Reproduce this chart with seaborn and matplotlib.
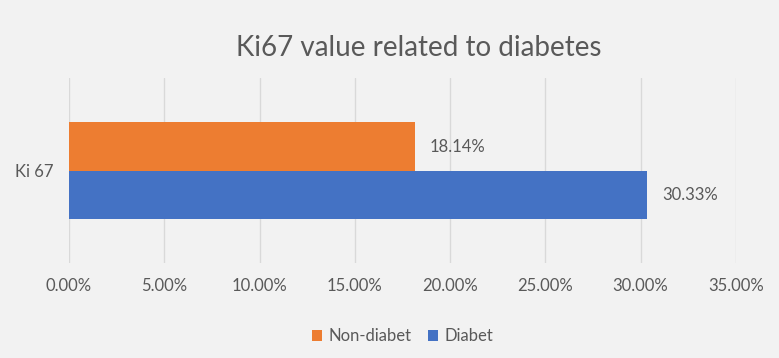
import pandas as pd
import seaborn as sns
import matplotlib.pyplot as plt
from matplotlib.ticker import PercentFormatter, MultipleLocator

# Chart data
categories = ['Ki 67']
groups = ['Non-diabet', 'Diabet']
values = [18.14, 30.33]
colors = ['#ED7D31', '#4472C4']

df = pd.DataFrame({'Marker': categories * len(groups), 'Group': groups, 'Value': values})

sns.set_theme(style='white')
plt.rcParams['font.family'] = ['Lato', 'DejaVu Sans']
text_color = '#595959'
bg = '#F2F2F2'

fig = plt.figure(figsize=(7.79, 3.58), dpi=100, facecolor=bg)
ax = fig.add_axes([0.0886, 0.265, 0.856, 0.517], facecolor=bg)

sns.barplot(data=df, y='Marker', x='Value', hue='Group', hue_order=groups,
            palette=colors, orient='h', width=0.52, saturation=1, ax=ax,
            linewidth=0, legend=True)

ax.set_xlim(0, 35)
ax.xaxis.set_major_locator(MultipleLocator(5))
ax.xaxis.set_major_formatter(PercentFormatter(decimals=2))
ax.grid(axis='x', color='#D9D9D9', linewidth=1)
ax.set_axisbelow(True)
for s in ax.spines.values():
    s.set_visible(False)
ax.tick_params(axis='both', length=0, labelsize=12, colors=text_color, pad=11)
ax.set_xlabel('')
ax.set_ylabel('')

# value labels
for container in ax.containers:
    ax.bar_label(container, labels=[f'{v:.2f}%' for v in container.datavalues],
                 padding=11, fontsize=12, color=text_color)

ax.set_title('Ki67 value related to diabetes', fontsize=20, color=text_color, pad=16, x=0.525)

leg = ax.legend(loc='upper center', bbox_to_anchor=(0.5, -0.27), ncol=2, frameon=False,
                fontsize=12, handlelength=0.6, handleheight=0.6, handletextpad=0.4,
                columnspacing=1.0, labelcolor=text_color)

fig.savefig('out.png', dpi=100, facecolor=bg)
